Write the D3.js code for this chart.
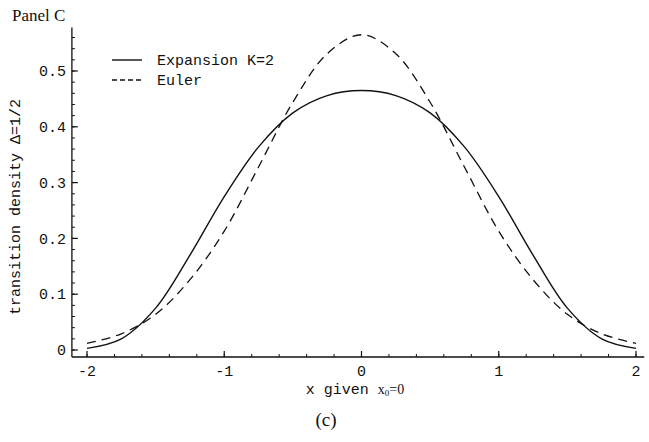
<!DOCTYPE html>
<html>
<head>
<meta charset="utf-8">
<script src="https://cdn.jsdelivr.net/npm/d3@7"></script>
<style>
  body { margin: 0; background: #fff; }
  text { fill: #111; }
  .mono { font-family: "Liberation Mono", "DejaVu Sans Mono", monospace; font-size: 15px; }
  .serif { font-family: "Liberation Serif", "DejaVu Serif", serif; }
</style>
</head>
<body>
<div id="chart"></div>
<script>
// values (density is symmetric around 0)
var xs = [-2, -1.75, -1.5, -1.25, -1, -0.75, -0.5, -0.25, 0, 0.25, 0.5, 0.75, 1, 1.25, 1.5, 1.75, 2];
var expansion = [0.003, 0.02, 0.075, 0.17, 0.275, 0.364, 0.425, 0.456, 0.465, 0.456, 0.425, 0.364, 0.275, 0.17, 0.075, 0.02, 0.003];
var euler = [0.012, 0.029, 0.064, 0.126, 0.213, 0.328, 0.444, 0.531, 0.565, 0.531, 0.444, 0.328, 0.213, 0.126, 0.064, 0.029, 0.012];
var xTicks = [-2, -1, 0, 1, 2];
var yTicks = [0, 0.1, 0.2, 0.3, 0.4, 0.5];

var width = 649, height = 442;

var svg = d3.select("#chart").append("svg")
    .attr("width", width)
    .attr("height", height);

var x = d3.scaleLinear().domain([-2, 2]).range([87, 636]);
var y = d3.scaleLinear().domain([0, 0.5]).range([350, 71]);

// axes cross at this point (Mathematica style origin)
var x0 = -2.11, y0 = -0.0125;

var ink = "#111";

// y axis
svg.append("line")
    .attr("x1", x(x0)).attr("x2", x(x0))
    .attr("y1", y(y0)).attr("y2", y(0.578))
    .attr("stroke", ink).attr("stroke-width", 1.3);

var yMinor = d3.range(0, 0.57, 0.02);
svg.selectAll(".ymin").data(yMinor).enter().append("line")
    .attr("x1", x(x0)).attr("x2", x(x0) + 3)
    .attr("y1", function (d) { return y(d); })
    .attr("y2", function (d) { return y(d); })
    .attr("stroke", ink).attr("stroke-width", 1);

svg.selectAll(".ymaj").data(yTicks).enter().append("line")
    .attr("x1", x(x0)).attr("x2", x(x0) + 6)
    .attr("y1", function (d) { return y(d); })
    .attr("y2", function (d) { return y(d); })
    .attr("stroke", ink).attr("stroke-width", 1.2);

svg.selectAll(".ylab").data(yTicks).enter().append("text")
    .attr("class", "mono")
    .attr("x", x(x0) - 6)
    .attr("y", function (d) { return y(d); })
    .attr("dy", "0.35em")
    .attr("text-anchor", "end")
    .text(function (d) { return d === 0 ? "0" : d3.format(".1f")(d); });

// x axis
svg.append("line")
    .attr("x1", x(x0)).attr("x2", x(2.06))
    .attr("y1", y(y0)).attr("y2", y(y0))
    .attr("stroke", ink).attr("stroke-width", 1.3);

var xMinor = d3.range(-2, 2.01, 0.2);
svg.selectAll(".xmin").data(xMinor).enter().append("line")
    .attr("x1", function (d) { return x(d); })
    .attr("x2", function (d) { return x(d); })
    .attr("y1", y(y0)).attr("y2", y(y0) - 3)
    .attr("stroke", ink).attr("stroke-width", 1);

svg.selectAll(".xmaj").data(xTicks).enter().append("line")
    .attr("x1", function (d) { return x(d); })
    .attr("x2", function (d) { return x(d); })
    .attr("y1", y(y0)).attr("y2", y(y0) - 6)
    .attr("stroke", ink).attr("stroke-width", 1.2);

svg.selectAll(".xlab").data(xTicks).enter().append("text")
    .attr("class", "mono")
    .attr("x", function (d) { return x(d); })
    .attr("y", 376)
    .attr("text-anchor", "middle")
    .text(function (d) { return d < 0 ? "-" + Math.abs(d) : d; });

// curves
var line = d3.line()
    .x(function (d) { return x(d[0]); })
    .y(function (d) { return y(d[1]); })
    .curve(d3.curveCatmullRom.alpha(0.5));

svg.append("path")
    .datum(d3.zip(xs, euler))
    .attr("d", line)
    .attr("fill", "none")
    .attr("stroke", ink)
    .attr("stroke-width", 1.3)
    .attr("stroke-dasharray", "9,6");

svg.append("path")
    .datum(d3.zip(xs, expansion))
    .attr("d", line)
    .attr("fill", "none")
    .attr("stroke", ink)
    .attr("stroke-width", 1.4);

// legend
var legend = svg.append("g");
legend.append("line")
    .attr("x1", 112).attr("x2", 142).attr("y1", 60).attr("y2", 60)
    .attr("stroke", ink).attr("stroke-width", 1.4);
legend.append("line")
    .attr("x1", 112).attr("x2", 142).attr("y1", 80).attr("y2", 80)
    .attr("stroke", ink).attr("stroke-width", 1.3)
    .attr("stroke-dasharray", "5,3");
legend.append("text").attr("class", "mono")
    .attr("x", 157).attr("y", 60).attr("dy", "0.35em")
    .text("Expansion K=2");
legend.append("text").attr("class", "mono")
    .attr("x", 157).attr("y", 80).attr("dy", "0.35em")
    .text("Euler");

// titles
svg.append("text").attr("class", "serif")
    .attr("x", 12).attr("y", 21)
    .style("font-size", "17px")
    .text("Panel C");

svg.append("text").attr("class", "mono")
    .attr("transform", "translate(20,207) rotate(-90)")
    .attr("text-anchor", "middle")
    .text("transition density \u0394=1/2");

var xl = svg.append("text").attr("x", 355).attr("y", 394).attr("text-anchor", "middle");
xl.append("tspan").attr("class", "mono").text("x given ");
xl.append("tspan").attr("class", "serif").style("font-size", "14px").text("x");
xl.append("tspan").attr("class", "serif").style("font-size", "9px").attr("dy", 2).text("0");
xl.append("tspan").attr("class", "serif").style("font-size", "14px").attr("dy", -2).text("=0");

svg.append("text").attr("class", "serif")
    .attr("x", 326).attr("y", 426)
    .attr("text-anchor", "middle")
    .style("font-size", "19px")
    .text("(c)");
</script>
</body>
</html>
